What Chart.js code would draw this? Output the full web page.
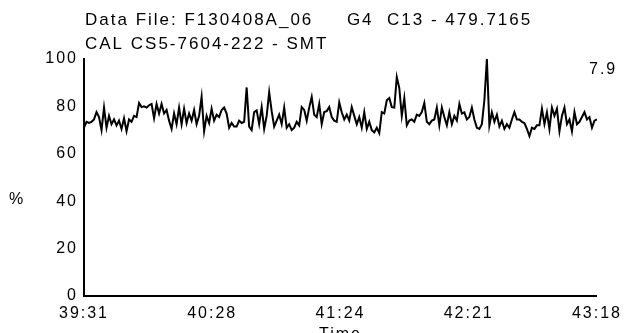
<!DOCTYPE html>
<html>
<head>
<meta charset="utf-8">
<script src="https://cdn.jsdelivr.net/npm/chart.js@4.4.1/dist/chart.umd.min.js"></script>
<style>
  html, body { margin: 0; padding: 0; background: #fff; }
  #wrap { width: 625px; height: 333px; position: relative; }
</style>
</head>
<body>
<div id="wrap"><canvas id="c" width="625" height="333"></canvas></div>
<script>
// ---- data ----
const titleLines = ["Data File: F130408A_06     G4  C13 - 479.7165", "CAL CS5-7604-222 - SMT"];
const yLabel = "%";
const xLabel = "Time";
const cornerNote = "7.9";
const timeLabels = ["39:31", "40:28", "41:24", "42:21", "43:18"];
const yTickValues = [0, 20, 40, 60, 80, 100];

const percent = [
  71, 73.5, 73, 73.5, 74.5, 77.6, 75.5, 70, 79.5, 71, 76, 72.5, 74.5, 72, 74, 70.5, 75, 69.5, 74.5, 73.5,
  76, 75.5, 81.4, 79.7, 80, 79.5, 80.5, 81, 75, 81, 77, 81, 77, 78.5, 74, 70.5, 77, 72.5, 79.5, 72.5,
  79, 73, 77, 74, 78.5, 72.5, 76, 84, 69.5, 76, 73, 79, 74, 76.5, 75.5, 78.5, 79.5, 77, 71, 73,
  71.5, 71.5,
  74, 73, 73.5, 88, 71.5, 70, 77.6, 78.3, 72.5, 79.7, 70.5, 76, 86, 78, 71.5, 74, 76.5, 72.5, 79.5, 71,
  72.5, 70, 71, 73.5, 72, 79.7, 78.5, 74, 79.5, 84, 76.5, 75.5, 81, 72.5, 77.6, 78, 79.7, 75.5, 74, 73.5,
  81.7, 77.5, 74.5, 76.5, 74, 79.7, 76, 72.5, 75.5, 71, 77.5, 70.5, 73.5, 70, 69, 71, 68.7, 77.6, 77, 82.6,
  83.5, 79.7, 79.5, 92.4, 87.7, 76, 83.5, 72, 74, 74.5, 73.5, 76.5, 76, 77.6,
  81.4, 73.5, 72.5, 74, 74.5, 79.5, 72, 79.5, 75.5, 72, 77.6, 72.5, 76, 74, 81, 77, 77.5, 74.5, 75.5, 79.5,
  74.5, 71, 70.5, 72.5, 82.6, 100, 72, 77.5, 73.5, 76.5, 71.5, 74, 70.5, 72.5, 71, 74.5, 77.6, 74.5, 74.5, 73.5,
  73, 70.5, 67.5, 71, 70.5, 72, 72, 79, 72.5, 77.5, 70.5, 79.5, 76, 79, 69.5, 76, 79.5, 72.5, 74.5, 69.5,
  77.6, 72.5, 73.5, 75.5, 77.6, 74.5, 75.5, 71, 74, 74.5
];

const FONT = '"Liberation Sans", Arial, sans-serif';
const FSIZE = 16;
const TSIZE = 17;
const SPACING = '2px';
const lastIndex = percent.length - 1;

const textPlugin = {
  id: 'textPlugin',
  beforeDraw(chart) {
    chart.ctx.letterSpacing = SPACING;
  },
  afterDraw(chart) {
    const ctx = chart.ctx;
    const a = chart.chartArea;
    ctx.save();
    ctx.letterSpacing = SPACING;
    ctx.fillStyle = '#000';
    ctx.textBaseline = 'middle';
    ctx.textAlign = 'left';
    ctx.font = TSIZE + 'px ' + FONT;
    ctx.fillText(titleLines[0], a.left + 1, 20);
    ctx.fillText(titleLines[1], a.left + 1, 44);
    ctx.font = FSIZE + 'px ' + FONT;
    ctx.fillText(cornerNote, a.right - 8, 70);
    ctx.textAlign = 'center';
    ctx.fillText(yLabel, 17, 200);
    ctx.fillText(xLabel, (a.left + a.right) / 2, 335);
    ctx.restore();
  }
};

new Chart(document.getElementById('c'), {
  type: 'line',
  data: {
    datasets: [{
      data: percent.map((v, i) => ({ x: i, y: v })),
      borderColor: '#000',
      borderWidth: 2,
      pointRadius: 0,
      tension: 0,
      fill: false
    }]
  },
  options: {
    responsive: false,
    animation: false,
    layout: { padding: { top: 59, right: 27, left: 0, bottom: 0 } },
    plugins: { legend: { display: false }, tooltip: { enabled: false }, title: { display: false } },
    scales: {
      x: {
        type: 'linear',
        min: 0,
        max: lastIndex,
        afterBuildTicks: s => { s.ticks = timeLabels.map((_, i) => ({ value: i * lastIndex / (timeLabels.length - 1) })); },
        afterFit: s => { s.height = 37; },
        grid: { display: false, drawTicks: false },
        border: { display: true, color: '#000', width: 2 },
        ticks: {
          color: '#000', font: { family: FONT, size: FSIZE }, padding: 8,
          maxRotation: 0, autoSkip: false,
          callback: (v, i) => timeLabels[i]
        }
      },
      y: {
        min: 0,
        max: 100,
        afterBuildTicks: s => { s.ticks = yTickValues.map(v => ({ value: v })); },
        afterFit: s => { s.width = 84; },
        grid: { display: false, drawTicks: false },
        border: { display: true, color: '#000', width: 2 },
        ticks: { color: '#000', font: { family: FONT, size: FSIZE }, padding: 6 }
      }
    }
  },
  plugins: [textPlugin]
});
</script>
</body>
</html>
